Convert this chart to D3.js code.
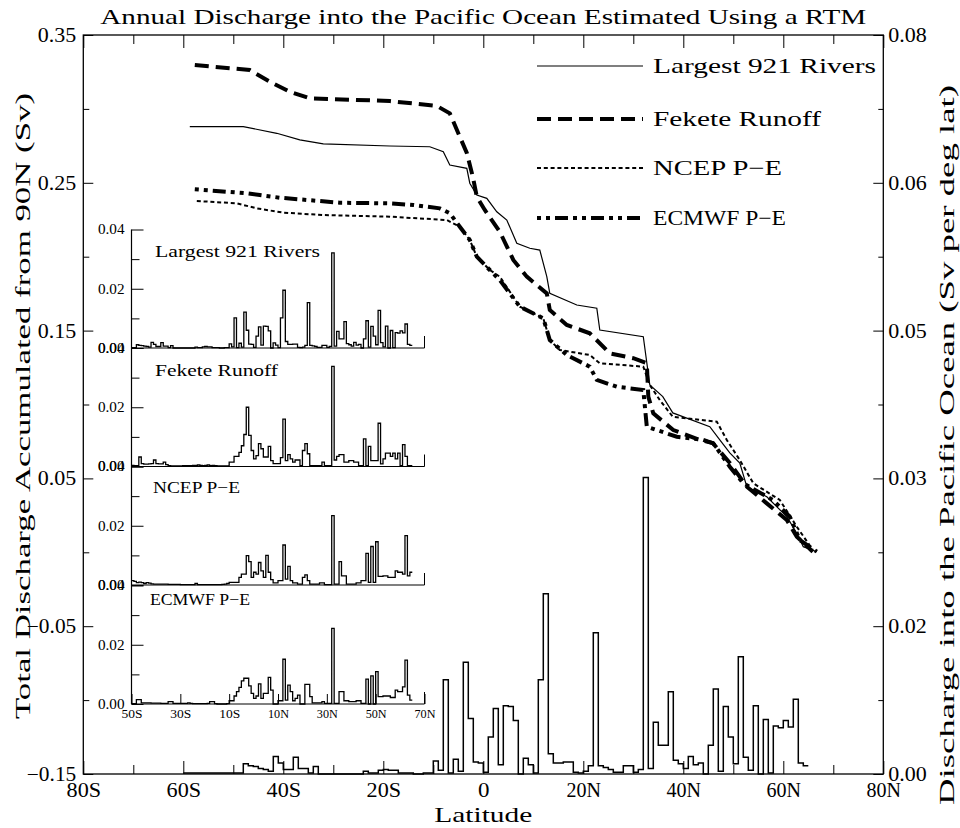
<!DOCTYPE html>
<html><head><meta charset="utf-8">
<script src="https://cdn.jsdelivr.net/npm/d3@7"></script>
<style>body{margin:0;background:#fff} svg text{font-family:"Liberation Serif","Times New Roman",serif;fill:#000}</style>
</head><body><svg id="c" width="960" height="828"></svg>
<script>
// ---------- DATA ----------
const titleText = "Annual Discharge into the Pacific Ocean Estimated Using a RTM";
const seriesNames = ["Largest 921 Rivers", "Fekete Runoff", "NCEP P\u2212E", "ECMWF P\u2212E"];

// Accumulated discharge curves (latitude, Sv)
const riversCurveLat = [-58.7,-48,-41.3,-36.7,-32,-18.7,-10.7,-8,-6.7,-3.3,-2.7,-1.3,0.7,2.7,4.7,6.7,9.3,11.3,12.7,13.3,18.7,22.7,23.3,32,33.3,35.9,37.9,45.3,47.3,49.3,51.3,52.7,56.7,60.7,62.7,64,66.7];
const riversCurveVal = [0.288,0.288,0.2835,0.279,0.2763,0.2749,0.2744,0.271,0.262,0.2598,0.2497,0.2417,0.2395,0.2304,0.2248,0.2091,0.2057,0.2045,0.1865,0.1752,0.1673,0.1651,0.1504,0.1459,0.1132,0.1053,0.0943,0.085,0.076,0.0672,0.0604,0.0444,0.0376,0.0241,0.0129,0.0038,0.0004];

const feketeCurveLat = [-57.7,-46.7,-42.7,-38.7,-34.7,-18.7,-9.3,-6.7,-4.7,-3.3,-2.1,-1.3,0.3,3.3,6,8.7,12.7,13.3,16.7,21.3,25.3,30,32.7,33,34,38,43.3,45.9,49.3,52.7,56.7,60.7,62.7,65.9];
const feketeCurveVal = [0.3297,0.3263,0.3184,0.3116,0.3072,0.3053,0.302,0.297,0.2812,0.2702,0.2541,0.2406,0.2316,0.2169,0.1978,0.1865,0.1752,0.1639,0.1538,0.1482,0.1346,0.1313,0.1279,0.1053,0.094,0.0827,0.076,0.0739,0.0604,0.0444,0.0331,0.0219,0.0106,0.0004];

const ncepCurveLat = [-57.3,-49.3,-45.3,-40,-32,-18.7,-7.3,-4.7,-2.7,-1.3,1.3,3.3,7.3,12,13.3,15.3,21.3,23.3,32,33.3,35.3,37.9,46.7,48.7,51.3,54,59.3,62.7,65.9];
const ncepCurveVal = [0.2377,0.2361,0.2327,0.2298,0.2282,0.2271,0.2248,0.2203,0.2113,0.2,0.191,0.1865,0.1662,0.1583,0.1436,0.1369,0.1335,0.1279,0.1256,0.1132,0.103,0.0917,0.0884,0.076,0.0624,0.0467,0.0354,0.0173,0.0016];

const ecmwfCurveLat = [-57.7,-47.3,-44.7,-40.7,-35.3,-28.7,-18.7,-14,-8.7,-6.7,-4.7,-2.7,-1.3,1.3,3.3,7.3,12,13.3,16.7,21.3,22.7,26.7,32,32.7,34.7,38.7,44,46,49.3,52,57.9,61.3,63.3,66.7];
const ecmwfCurveVal = [0.2456,0.2429,0.2417,0.2399,0.2384,0.2365,0.2361,0.235,0.2327,0.2294,0.2203,0.2113,0.2,0.191,0.1842,0.1662,0.1583,0.1436,0.1335,0.1256,0.1166,0.112,0.1098,0.085,0.0827,0.0782,0.076,0.0737,0.0579,0.0467,0.0354,0.0241,0.0083,0.0004];

// Discharge per degree latitude (Sv per deg lat), 1-degree bins (left edge latitude)
const riverBinLat = d3.range(-60, 65);
const riverBins = [
0.0001,0.0001,0.0001,0.0001,0.0001,0.0001,0.0001,0.0001,0.0001,0.0001,0.0001,0.0001,
0.0011,0.0009,0.0008,0.0006,0.0005,0.0003,0.0019,0.0012,0.0005,0.0005,0.0018,0.0006,0.0006,0.0001,0.0008,0,
0,0,0,0,0,0,0,0,
0.0003,0.0001,0.0001,0.0004,0.0005,0.0004,0.0004,0.0001,0.0001,0.0001,0,0,0.0001,0.0001,
0.0014,0.0004,0.0102,0.0001,0.0016,0.0003,0.0121,0.006,0.0013,0.0012,
0.0002,0.004,0.0071,0.001,0.0074,0.0073,0.0058,0,0.0017,0.001,
0.0001,0.0102,0.0195,0.0022,0.0012,0.0012,0.0013,0.0013,0.0002,0.0001,
0.0003,0.0009,0.0153,0.0009,0.0007,0.0005,0.0002,0.0002,0.0009,0.0009,
0.0002,0.0005,0.0321,0.0006,0.0056,0.0031,0.0031,0.0089,0.0015,0.0011,
0.0006,0.0019,0.001,0.0012,0,0.0031,0.0092,0.0003,0.0073,0.004,
0.0011,0.0127,0.0018,0.0004,0.0074,0,0.0059,0.0001,0.0052,0.005,
0.0058,0.0051,0.0081,0.0012,0.0009];

const insetBinLat = d3.range(-50, 65);
const feketeBins = [
0.0004,0.0003,0.0003,0.0032,0.001,0.0008,0.0008,0.0009,0.001,0.0022,
0.001,0.0009,0.0009,0.0015,0.0006,0.0003,0.0002,0.0002,0.0002,0.0002,
0.0002,0.0003,0.0003,0.0003,0.0003,0.0004,0.0004,0.0005,0.0004,0.0003,
0.0004,0.0005,0.0003,0.0004,0.0003,0.0002,0.0002,0.0002,0.0002,0.0002,
0.0015,0.0015,0.0034,0.0034,0.0048,0.007,0.0108,0.02,0.0105,0.0054,
0.0026,0.0037,0.0077,0.006,0.0032,0.0032,0.0068,0.002,0.001,0.001,
0.001,0.003,0.016,0.002,0.004,0.0026,0.0015,0.0022,0.0022,0.0003,
0.0054,0.0077,0.0043,0.0003,0.0003,0.0003,0.0003,0.0003,0.0015,0.0003,
0.0003,0.0003,0.0338,0.0022,0.0034,0.004,0.004,0.0015,0.0015,0.002,
0.002,0.0015,0.0015,0.0003,0.0003,0.0093,0.0003,0.0068,0.002,0.002,
0.002,0.0146,0.0009,0.0026,0.0045,0.0045,0.0034,0.0045,0.0026,0.0045,
0.0003,0.0074,0.0034,0.0003,0.0003];
const ncepBins = [
0.0015,0.0012,0.0008,0.001,0.0008,0.0005,0.0008,0.0006,0.0004,0.0003,
0.0003,0.0003,0.0003,0.0003,0.0003,0.0002,0.0002,0.0002,0.0002,0.0002,
0.0001,0.0001,0.0001,0.0001,0.0001,0.0001,0.0005,0.0001,0.0001,0.0001,
0.0001,0.0001,0.0001,0.0001,0.0001,0.0001,0.0001,0.0002,0.0003,0.0005,
0.0009,0.0009,0.0009,0.0009,0.0026,0.0037,0.0037,0.0099,0.0079,0.0026,
0.0043,0.0037,0.0076,0.0048,0.0026,0.01,0.0043,0.0018,0.0007,0.0007,
0.0015,0.0015,0.0135,0.002,0.0063,0.0015,0.0007,0.0007,0.0003,0.0003,
0.0026,0.0034,0.0015,0.0003,0.0003,0.0003,0.0003,0.0007,0.0007,0.0001,
0.0001,0.0001,0.0234,0.0003,0.0003,0.0079,0.0031,0.0031,0.0003,0.0003,
0.0003,0.0003,0.0007,0.0007,0.0015,0.0015,0.0107,0.0009,0.013,0.0009,
0.0146,0.0029,0.0029,0.0031,0.0031,0.0026,0.0026,0.0026,0.0048,0.0043,
0.0043,0.0037,0.0167,0.0031,0.0043];
const ecmwfBins = [
0.0001,0.0001,0.0015,0.0015,0.0004,0.0004,0.0004,0.0004,0.0003,0.0003,
0.0003,0.0003,0.0002,0.0002,0.0002,0.0008,0.0008,0.0002,0.0002,0.0002,
0.0002,0.0002,0.0002,0.0004,0.0002,0.0001,0.0001,0.0001,0.0001,0.0001,
0.0001,0.0002,0.0008,0.0008,0.0001,0,0,0,0,0.0001,
0.0011,0.0011,0.0027,0.0042,0.0056,0.0078,0.0087,0.0087,0.0061,0.0036,
0.0019,0.0027,0.0068,0.0019,0.0036,0.0036,0.009,0.0047,0,0,
0.0011,0.0011,0.0151,0.0013,0.0064,0.0042,0.0011,0.0019,0.003,0,
0,0.0066,0.0066,0.0025,0.0004,0.0004,0.0004,0.0004,0.0008,0.0002,
0.0002,0.0002,0.0255,0.0002,0.0002,0.0042,0.0042,0.0011,0.0011,0.0008,
0.0008,0.0008,0.0011,0.0011,0.0002,0.0002,0.0084,0,0.0095,0,
0.0109,0.0025,0.0025,0.0027,0.0027,0.0027,0.0022,0.0022,0.0047,0.0042,
0.0042,0.0058,0.0148,0.003,0.0013];

// Tick values
const latMajor = [-80,-60,-40,-20,0,20,40,60,80];
const latMinor = [-70,-50,-30,-10,10,30,50,70];
const leftMajor = [-0.15,-0.05,0.05,0.15,0.25,0.35];
const leftMinor = [-0.10,0.0,0.10,0.20,0.30];
const rightMajor = [0,0.016,0.032,0.048,0.064,0.08];
const rightMinor = [0.008,0.024,0.040,0.056,0.072];
const insetLatTicks = [-50,-30,-10,10,30,50,70];
const insetYMajor = [0,0.02,0.04];
const insetYMinor = [0.01,0.03];

// ---------- DRAW ----------
const FONT = '"Liberation Serif","Times New Roman",serif';
const svg = d3.select("#c");
const L = 83.3, R = 883.3, T = 35, B = 774;
const x = d3.scaleLinear().domain([-80, 80]).range([L, R]);
const yL = d3.scaleLinear().domain([-0.15, 0.35]).range([B, T]);
const yR = d3.scaleLinear().domain([0, 0.08]).range([B, T]);
const fmtLat = d => d < 0 ? (-d) + "S" : d > 0 ? d + "N" : "0";
const f2 = d3.format(".2f");

function styleAxis(g, fs, perChar) {
  g.select(".domain").remove();
  g.attr("font-family", FONT).attr("font-size", fs);
  g.selectAll("line").attr("stroke", "#000").attr("stroke-width", 1);
  g.selectAll("text").attr("fill", "#000").each(function () {
    const t = d3.select(this), s = t.text();
    if (perChar && s.length) {
      const n = s.replace(/\./g, "").length + (s.includes(".") ? 0.5 : 0);
      t.attr("textLength", n * perChar).attr("lengthAdjust", "spacingAndGlyphs");
    }
  });
}

// frame
svg.append("rect").attr("x", L).attr("y", T).attr("width", R - L).attr("height", B - T)
  .attr("fill", "none").attr("stroke", "#000").attr("stroke-width", 1.3);

// axes
svg.append("g").attr("transform", `translate(0,${B})`)
  .call(d3.axisBottom(x).tickValues(latMajor).tickFormat(fmtLat).tickSize(-13).tickPadding(9)).call(g => styleAxis(g, 20, 11.5));
svg.append("g").attr("transform", `translate(0,${B})`)
  .call(d3.axisBottom(x).tickValues(latMinor).tickFormat("").tickSize(-9)).call(g => styleAxis(g, 20));
svg.append("g").attr("transform", `translate(0,${T})`)
  .call(d3.axisTop(x).tickValues(latMajor).tickFormat("").tickSize(-13)).call(g => styleAxis(g, 20));
svg.append("g").attr("transform", `translate(0,${T})`)
  .call(d3.axisTop(x).tickValues(latMinor).tickFormat("").tickSize(-9)).call(g => styleAxis(g, 20));
svg.append("g").attr("transform", `translate(${L},0)`)
  .call(d3.axisLeft(yL).tickValues(leftMajor).tickFormat(f2).tickSize(-10).tickPadding(7)).call(g => styleAxis(g, 20, 11));
svg.append("g").attr("transform", `translate(${L},0)`)
  .call(d3.axisLeft(yL).tickValues(leftMinor).tickFormat("").tickSize(-6)).call(g => styleAxis(g, 20));
svg.append("g").attr("transform", `translate(${R},0)`)
  .call(d3.axisRight(yR).tickValues(rightMajor).tickFormat(f2).tickSize(-10).tickPadding(5)).call(g => styleAxis(g, 20, 11));
svg.append("g").attr("transform", `translate(${R},0)`)
  .call(d3.axisRight(yR).tickValues(rightMinor).tickFormat("").tickSize(-5)).call(g => styleAxis(g, 20));

// titles
svg.append("text").attr("x", (L + R) / 2).attr("y", 24).attr("text-anchor", "middle")
  .attr("font-size", 21).attr("textLength", 766).attr("lengthAdjust", "spacingAndGlyphs").text(titleText);
svg.append("text").attr("x", (L + R) / 2).attr("y", 822).attr("text-anchor", "middle")
  .attr("font-size", 22).attr("textLength", 98).attr("lengthAdjust", "spacingAndGlyphs").text("Latitude");
svg.append("text").attr("transform", "translate(30,406) rotate(-90)").attr("text-anchor", "middle")
  .attr("font-size", 22).attr("textLength", 626).attr("lengthAdjust", "spacingAndGlyphs")
  .text("Total Discharge Accumulated from 90N (Sv)");
svg.append("text").attr("transform", "translate(954,445) rotate(-90)").attr("text-anchor", "middle")
  .attr("font-size", 22).attr("textLength", 720).attr("lengthAdjust", "spacingAndGlyphs")
  .text("Discharge into the Pacific Ocean (Sv per deg lat)");

// styles per series
const styles = [
  { w: 1.2, dash: null },
  { w: 4, dash: "14,7" },
  { w: 2, dash: "4,2.8" },
  { w: 4, dash: "4,5,4,5,13,5" }
];

// step histogram helper
function stepPath(lats, vals, xs, ys) {
  const pts = lats.map((l, i) => [l, vals[i]]);
  pts.push([lats[lats.length - 1] + 1, vals[vals.length - 1]]);
  return d3.line().x(d => xs(d[0])).y(d => ys(d[1])).curve(d3.curveStepAfter)(pts);
}

// main histogram (right axis)
svg.append("path").attr("d", stepPath(riverBinLat, riverBins, x, yR))
  .attr("fill", "none").attr("stroke", "#000").attr("stroke-width", 1.5);

// accumulated curves
const curves = [
  [riversCurveLat, riversCurveVal],
  [feketeCurveLat, feketeCurveVal],
  [ncepCurveLat, ncepCurveVal],
  [ecmwfCurveLat, ecmwfCurveVal]
];
const lineGen = d3.line().x(d => x(d[0])).y(d => yL(d[1]));
curves.forEach((c, i) => {
  const pts = c[0].map((l, j) => [l, c[1][j]]);
  const p = svg.append("path").attr("d", lineGen(pts)).attr("fill", "none")
    .attr("stroke", "#000").attr("stroke-width", styles[i].w);
  if (styles[i].dash) p.attr("stroke-dasharray", styles[i].dash);
});

// legend
const legY = [66, 119, 168, 218];
seriesNames.forEach((n, i) => {
  const ln = svg.append("line").attr("x1", 537).attr("x2", 643).attr("y1", legY[i]).attr("y2", legY[i])
    .attr("stroke", "#000").attr("stroke-width", styles[i].w);
  if (styles[i].dash) ln.attr("stroke-dasharray", styles[i].dash);
});
const legLen = [223, 168, 129, 133];
seriesNames.forEach((n, i) => {
  svg.append("text").attr("x", 653).attr("y", legY[i] + 7).attr("font-size", 21)
    .attr("textLength", legLen[i]).attr("lengthAdjust", "spacingAndGlyphs").text(n);
});

// ---------- INSETS ----------
const IL = 131.5, IR = 424.5;
const xi = d3.scaleLinear().domain([-50, 70]).range([IL, IR]);
const panelBottoms = [348, 466.5, 585, 704];
const panelH = 118.5;
const insetData = [riverBins.slice(10), feketeBins, ncepBins, ecmwfBins];
const insetLabelPos = [[155, 257, 165], [155, 376, 123], [153, 493, 87], [150, 605, 100]];

svg.append("line").attr("x1", IL).attr("x2", IL).attr("y1", panelBottoms[0] - panelH).attr("y2", panelBottoms[3])
  .attr("stroke", "#000").attr("stroke-width", 1.2);

panelBottoms.forEach((b, p) => {
  const yi = d3.scaleLinear().domain([0, 0.04]).range([b, b - panelH]);
  svg.append("line").attr("x1", IL).attr("x2", IR).attr("y1", b).attr("y2", b)
    .attr("stroke", "#000").attr("stroke-width", 1.2);
  svg.append("line").attr("x1", IR).attr("x2", IR).attr("y1", b).attr("y2", b - 12)
    .attr("stroke", "#000").attr("stroke-width", 1);
  svg.append("g").attr("transform", `translate(${IL},0)`)
    .call(d3.axisLeft(yi).tickValues(insetYMajor).tickFormat(f2).tickSize(-12).tickPadding(7)).call(g => styleAxis(g, 14, 7.6));
  svg.append("g").attr("transform", `translate(${IL},0)`)
    .call(d3.axisLeft(yi).tickValues(insetYMinor).tickFormat("").tickSize(-8)).call(g => styleAxis(g, 14));
  svg.append("path").attr("d", stepPath(insetBinLat, insetData[p], xi, yi))
    .attr("fill", "none").attr("stroke", "#000").attr("stroke-width", 1.3);
  const lp = insetLabelPos[p];
  svg.append("text").attr("x", lp[0]).attr("y", lp[1]).attr("font-size", 16)
    .attr("textLength", lp[2]).attr("lengthAdjust", "spacingAndGlyphs").text(seriesNames[p]);
  if (p === 3) {
    svg.append("g").attr("transform", `translate(0,${b})`)
      .call(d3.axisBottom(xi).tickValues(insetLatTicks).tickFormat(fmtLat).tickSize(-10).tickPadding(5)).call(g => styleAxis(g, 13, 7));
  }
});
</script></body></html>
